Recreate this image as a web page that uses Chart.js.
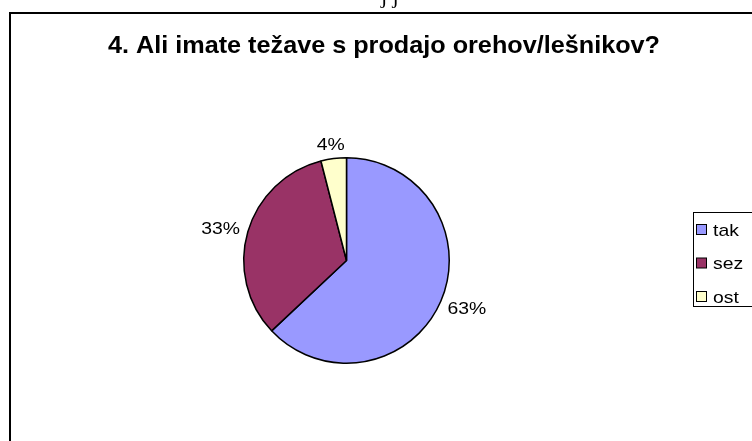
<!DOCTYPE html>
<html>
<head>
<meta charset="utf-8">
<script src="https://cdn.jsdelivr.net/npm/chart.js@4.4.0/dist/chart.umd.min.js"></script>
<style>
  html, body { margin: 0; padding: 0; background: #fff; }
  #wrap { width: 752px; height: 441px; position: relative; }
</style>
</head>
<body>
<div id="wrap"><canvas id="pie" width="752" height="441"></canvas></div>
<script>
// Podatki
const categories = ['tak', 'sez', 'ost'];
const shares = [63, 33, 4];
const sliceColors = ['#9999FF', '#993366', '#FFFFCC'];
const titleText = '4. Ali imate težave s prodajo orehov/lešnikov?';

const FONT = '"Liberation Sans", Arial, sans-serif';
const STRETCH = 1.14; // slika je vodoravno raztegnjena

// pomožna: tekst z vodoravnim raztegom
function stretchedText(ctx, txt, x, y, sx, align) {
    ctx.save();
    ctx.translate(x, y);
    ctx.scale(sx, 1);
    ctx.textAlign = align;
    ctx.fillText(txt, 0, 0);
    ctx.restore();
}

// Okvir in naslov
const framePlugin = {
    id: 'frame',
    beforeDraw(chart) {
        const ctx = chart.ctx;
        ctx.save();
        ctx.fillStyle = '#fff';
        ctx.fillRect(0, 0, chart.width, chart.height);
        // odrezan tekst nad grafom
        ctx.fillStyle = '#000';
        ctx.font = '22px "Liberation Serif", serif';
        ctx.textBaseline = 'alphabetic';
        ctx.textAlign = 'left';
        ctx.fillText('j j', 381, 3);
        // okvir
        ctx.strokeStyle = '#000';
        ctx.lineWidth = 2;
        ctx.strokeRect(10, 13, 800, 500);
        // naslov
        ctx.font = 'bold 24px ' + FONT;
        const sx = 552 / ctx.measureText(titleText).width;
        stretchedText(ctx, titleText, 384, 53, sx, 'center');
        ctx.restore();
    }
};

// Oznake odstotkov in legenda
const labelPlugin = {
    id: 'labels',
    afterDatasetsDraw(chart) {
        const ctx = chart.ctx;
        const meta = chart.getDatasetMeta(0);
        ctx.save();
        ctx.font = '17px ' + FONT;
        ctx.fillStyle = '#000';
        ctx.textBaseline = 'middle';
        meta.data.forEach((arc, i) => {
            const mid = (arc.startAngle + arc.endAngle) / 2;
            const dx = Math.cos(mid), dy = Math.sin(mid);
            const txt = shares[i] + '%';
            const w = ctx.measureText(txt).width * STRETCH;
            const r = arc.outerRadius + 9;
            const x = arc.x + dx * (r + w / 2);
            const y = arc.y + dy * (r + 6) + 2;
            stretchedText(ctx, txt, x, y, STRETCH, 'center');
        });

        // legenda
        ctx.strokeStyle = '#000';
        ctx.lineWidth = 1;
        ctx.strokeRect(693.5, 212.5, 100, 94);
        categories.forEach((name, i) => {
            const cy = 230 + i * 33.5;
            ctx.fillStyle = sliceColors[i];
            ctx.fillRect(696.5, cy - 5.5, 10, 10);
            ctx.strokeRect(696.5, cy - 5.5, 10, 10);
            ctx.fillStyle = '#000';
            stretchedText(ctx, name, 713, cy + 1, STRETCH, 'left');
        });
        ctx.restore();
    }
};

new Chart(document.getElementById('pie'), {
    type: 'pie',
    data: {
        labels: categories,
        datasets: [{
            data: shares,
            backgroundColor: sliceColors,
            borderColor: '#000',
            borderWidth: 1.5
        }]
    },
    options: {
        responsive: false,
        animation: false,
        devicePixelRatio: 1,
        layout: {
            padding: { left: 243, right: 302, top: 157, bottom: 77 }
        },
        plugins: {
            legend: { display: false },
            title: { display: false },
            tooltip: { enabled: false }
        }
    },
    plugins: [framePlugin, labelPlugin]
});
</script>
</body>
</html>
